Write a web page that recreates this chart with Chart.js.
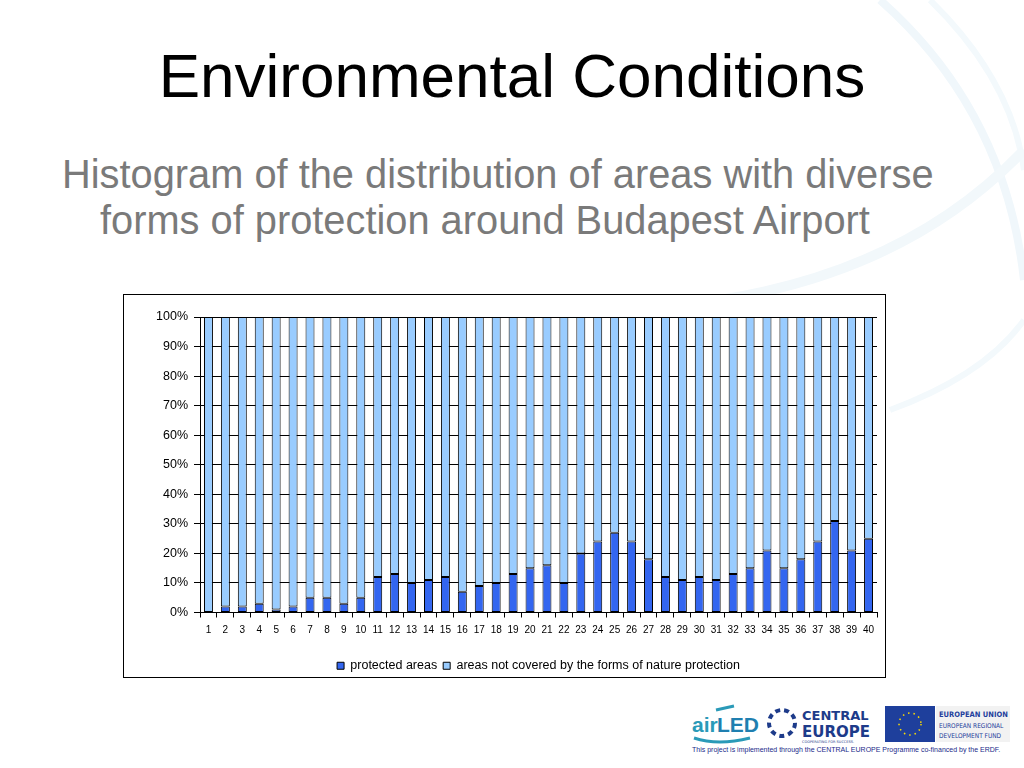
<!DOCTYPE html>
<html>
<head>
<meta charset="utf-8">
<script src="https://cdn.jsdelivr.net/npm/chart.js@4.4.0/dist/chart.umd.min.js"></script>
<style>
    body { margin: 0; width: 1024px; height: 768px; background: #fff; position: relative; overflow: hidden; font-family: "Liberation Sans", Arial, sans-serif; }
    #bg { position: absolute; left: 0; top: 0; }
    #title { position: absolute; left: 0; width: 1024px; top: 40px; text-align: center; font-size: 62px; color: #000; }
    #sub { position: absolute; left: 62px; top: 151px; font-size: 39.8px; color: #7a7a7a; line-height: 46px; white-space: nowrap; }
    #sub .l2 { padding-left: 38px; }
    #frame { position: absolute; left: 123px; top: 294px; width: 761px; height: 382px; border: 1px solid #000; background: #fff; overflow: hidden; }
    #logos { position: absolute; left: 688px; top: 698px; width: 336px; height: 50px; }
    .foot { position: absolute; left: 692px; top: 746px; font-size: 7px; color: #1a2a8a; white-space: nowrap; }
</style>
</head>
<body>
<svg id="bg" width="1024" height="768">
    <path d="M 880 0 Q 1005 110 1024 280" stroke="#f0f7fb" stroke-width="8" fill="none"/>
    <path d="M 930 0 Q 1012 80 1024 170" stroke="#f3f9fc" stroke-width="6" fill="none"/>
    <path d="M 720 300 Q 910 270 1024 150" stroke="#f2f8fb" stroke-width="10" fill="none"/>
    <path d="M 890 410 Q 985 375 1024 320" stroke="#f3f9fc" stroke-width="6" fill="none"/>
</svg>
<div id="title">Environmental Conditions</div>
<div id="sub">Histogram of the distribution of areas with diverse<br><span class="l2">forms of protection around Budapest Airport</span></div>
<div id="frame"><canvas id="histChart" width="761" height="382"></canvas></div>
<svg id="logos" width="336" height="50">
    <text x="4" y="34" font-family="Liberation Sans" font-weight="bold" font-size="21" fill="#2a9ab8">air</text>
    <text x="29" y="34" font-family="Liberation Sans" font-weight="bold" font-size="21" fill="#1f7fb0">LED</text>
    <path d="M 6 40 Q 30 48 62 40" stroke="#2a9ab8" stroke-width="3" fill="none"/>
    <path d="M 28 12 L 46 8" stroke="#2a9ab8" stroke-width="3" fill="none"/>
    <circle cx="94" cy="25" r="13" fill="none" stroke="#1d3b8a" stroke-width="4" stroke-dasharray="5 4"/>
    <text x="114" y="22" font-family="DejaVu Sans" font-weight="bold" font-size="13" fill="#1d3b8a">CENTRAL</text>
    <text x="114" y="39" font-family="DejaVu Sans" font-weight="bold" font-size="15" fill="#1d3b8a">EUROPE</text>
    <text x="114" y="45" font-family="DejaVu Sans" font-size="3.5" fill="#1d3b8a">COOPERATING FOR SUCCESS.</text>
    <rect x="197" y="8" width="50" height="36" fill="#1e3f9c"/>
    <circle cx="222" cy="26" r="11" fill="none" stroke="#ffdd00" stroke-width="1.5" stroke-dasharray="1.5 4"/>
    <rect x="248" y="8" width="74" height="36" fill="#f2f2f2"/>
    <text x="251" y="19" font-family="DejaVu Sans Condensed" font-weight="bold" font-size="7.5" fill="#1e3f9c">EUROPEAN UNION</text>
    <text x="251" y="30" font-family="DejaVu Sans Condensed" font-size="6.5" fill="#1e3f9c">EUROPEAN REGIONAL</text>
    <text x="251" y="40" font-family="DejaVu Sans Condensed" font-size="6.5" fill="#1e3f9c">DEVELOPMENT FUND</text>
</svg>
<div class="foot">This project is implemented through the CENTRAL EUROPE Programme co-financed by the ERDF.</div>
<script>
const categories = ["1","2","3","4","5","6","7","8","9","10","11","12","13","14","15","16","17","18","19","20",
    "21","22","23","24","25","26","27","28","29","30","31","32","33","34","35","36","37","38","39","40"];
const protectedAreas = [0, 2, 2, 3, 1, 2, 5, 5, 3, 5, 12, 13, 10, 11, 12, 7, 9, 10, 13, 15,
    16, 10, 20, 24, 27, 24, 18, 12, 11, 12, 11, 13, 15, 21, 15, 18, 24, 31, 21, 25];
const notCovered = [100, 98, 98, 97, 99, 98, 95, 95, 97, 95, 88, 87, 90, 89, 88, 93, 91, 90, 87, 85,
    84, 90, 80, 76, 73, 76, 82, 88, 89, 88, 89, 87, 85, 79, 85, 82, 76, 69, 79, 75];

const ctx = document.getElementById("histChart").getContext("2d");
new Chart(ctx, {
    type: "bar",
    data: {
        labels: categories,
        datasets: [{
            label: "protected areas",
            data: protectedAreas,
            backgroundColor: "#3366f0",
            borderColor: "#000",
            borderWidth: 1,
            borderSkipped: false
        }, {
            label: "areas not covered by the forms of nature protection",
            data: notCovered,
            backgroundColor: "#99ccff",
            borderColor: "#000",
            borderWidth: 1,
            borderSkipped: false
        }]
    },
    options: {
        responsive: false,
        animation: false,
        categoryPercentage: 1,
        barPercentage: 0.53,
        layout: { padding: { top: 22, right: 8, left: 0, bottom: -5 } },
        plugins: {
            tooltip: { enabled: false },
            legend: {
                position: "bottom",
                fullSize: false,
                labels: {
                    boxWidth: 7,
                    boxHeight: 7,
                    padding: 6,
                    color: "#000",
                    font: { family: "Liberation Sans", size: 12.5 }
                }
            }
        },
        scales: {
            x: {
                stacked: true,
                afterFit: s => { s.height = 41; },
                grid: { display: true, drawOnChartArea: false, offset: true, color: "#000", tickLength: 5 },
                border: { color: "#000" },
                ticks: { color: "#000", font: { family: "Liberation Sans", size: 10 }, maxRotation: 0, autoSkip: false, padding: 7 }
            },
            y: {
                stacked: true,
                min: 0,
                max: 100,
                afterFit: s => { s.width = 76; },
                grid: { color: "#000", tickLength: 6 },
                border: { color: "#000" },
                ticks: {
                    stepSize: 10,
                    color: "#000",
                    padding: 6,
                    font: { family: "Liberation Sans", size: 12.5 },
                    callback: v => v + "%"
                }
            }
        }
    }
});
</script>
</body>
</html>
